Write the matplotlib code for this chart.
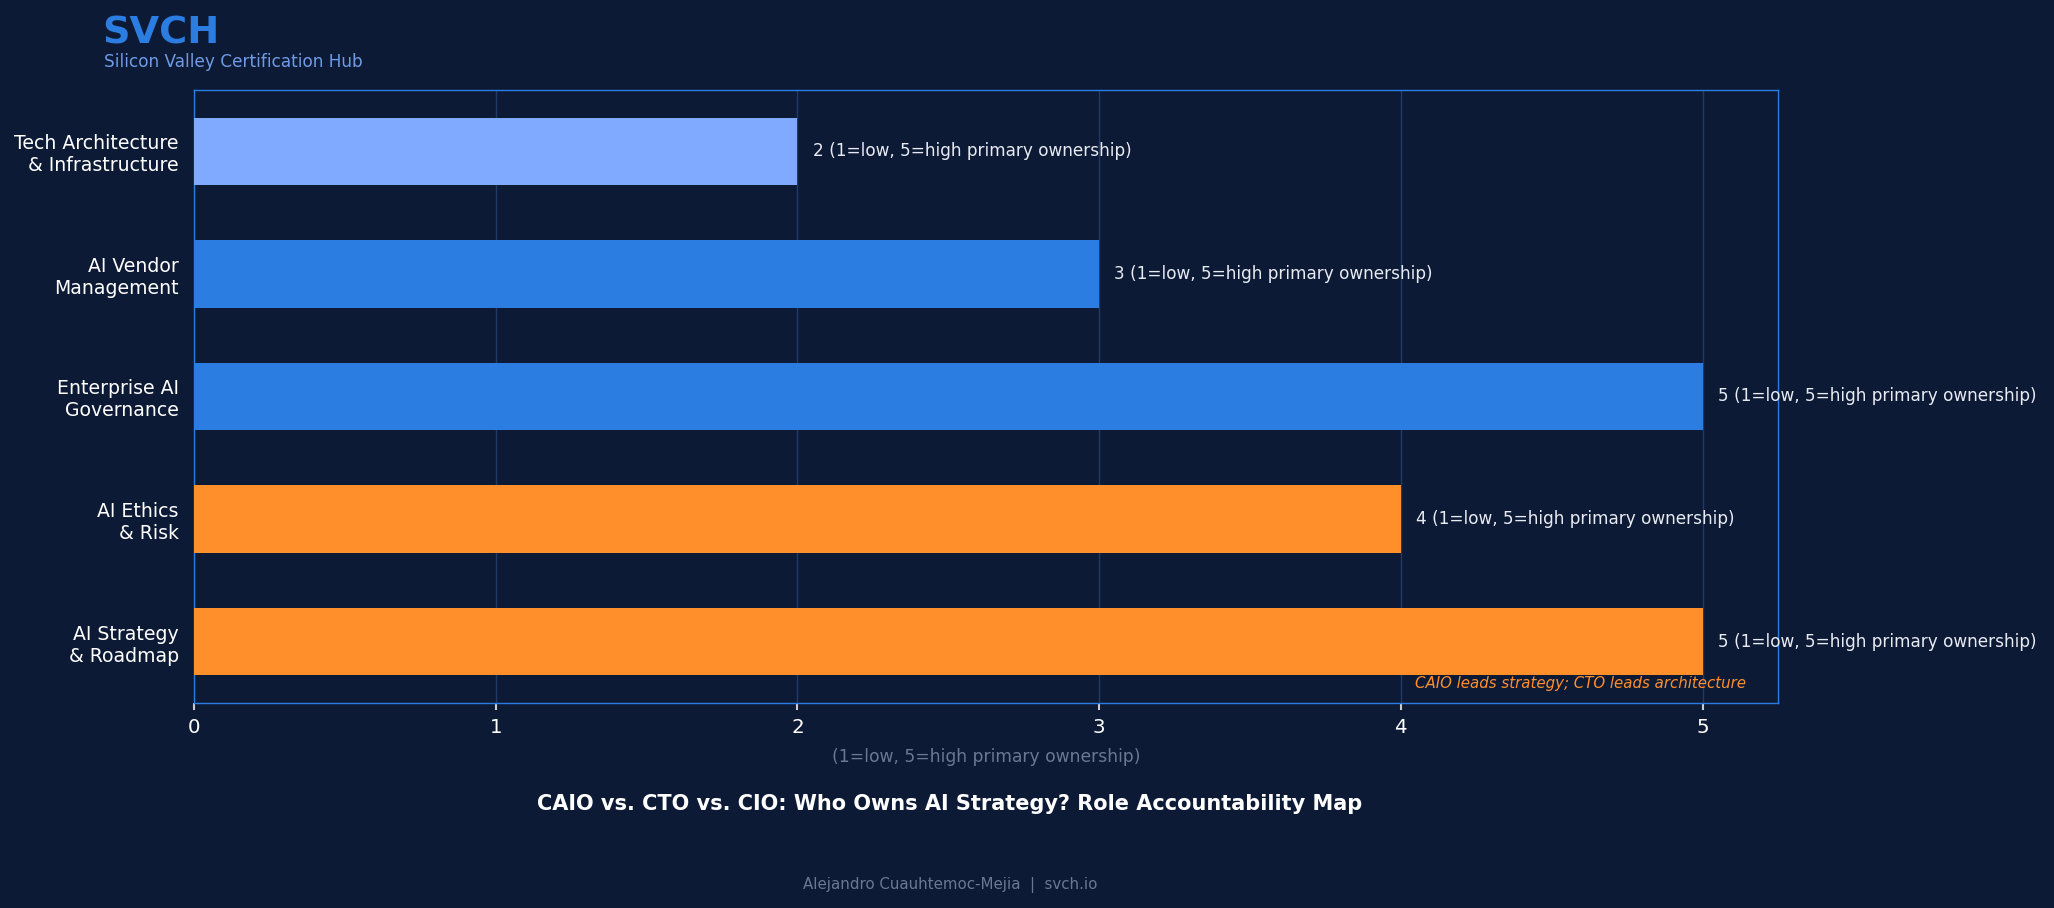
import matplotlib
matplotlib.use("Agg")
import matplotlib.pyplot as plt

# data (bottom to top)
categories = ["AI Strategy\n& Roadmap", "AI Ethics\n& Risk", "Enterprise AI\nGovernance",
              "AI Vendor\nManagement", "Tech Architecture\n& Infrastructure"]
scores = [5, 4, 5, 3, 2]
bar_colors = ["#ff8f2b", "#ff8f2b", "#2b7de1", "#2b7de1", "#7faaff"]
value_suffix = "(1=low, 5=high primary ownership)"
xticks = [0, 1, 2, 3, 4, 5]

BG = "#0d1a35"
BLUE = "#2b7de1"

fig = plt.figure(figsize=(20.54, 9.08), dpi=100, facecolor=BG)
ax = fig.add_axes([0.0945, 0.2258, 0.7711, 0.6751])
ax.set_facecolor(BG)

y = list(range(len(categories)))
ax.barh(y, scores, height=0.55, color=bar_colors, zorder=3)

for yi, s in zip(y, scores):
    ax.text(s + 0.05, yi, f"{s} {value_suffix}", va="center", ha="left",
            color="#e8ebf2", fontsize=12.15, zorder=4)

ax.set_xlim(0, 5.25)
ax.set_ylim(-0.5, 4.5)
ax.set_yticks(y)
ax.set_yticklabels(categories, fontsize=13.6, color="white")
ax.set_xticks(xticks)
ax.set_xticklabels([str(t) for t in xticks], fontsize=14.3, color="white")
ax.tick_params(axis="y", length=0, pad=11)
ax.tick_params(axis="x", length=5, width=1.5, color="#cccccc", pad=6)

ax.xaxis.grid(True, color="#1e3a66", linewidth=1, zorder=0)
ax.yaxis.grid(False)
for sp in ax.spines.values():
    sp.set_color(BLUE)
    sp.set_linewidth(1)

ax.set_xlabel(value_suffix, color="#6b7893", fontsize=12.3, labelpad=8)

ax.text(0.98, 0.02, "CAIO leads strategy; CTO leads architecture", transform=ax.transAxes,
        ha="right", va="bottom", color="#ff8f2b", fontsize=10.8, style="italic")

fig.text(0.050, 0.952, "SVCH", color=BLUE, fontsize=27.5, fontweight="bold", ha="left", va="baseline")
fig.text(0.0505, 0.926, "Silicon Valley Certification Hub", color="#6f9be6", fontsize=12.2,
         ha="left", va="baseline")

fig.text(0.4625, 0.114, "CAIO vs. CTO vs. CIO: Who Owns AI Strategy? Role Accountability Map",
         color="white", fontsize=15, fontweight="bold", ha="center", va="center")
fig.text(0.4625, 0.025, "Alejandro Cuauhtemoc-Mejia  |  svch.io", color="#6b7893",
         fontsize=10.8, ha="center", va="center")

fig.savefig("out.png", dpi=100, facecolor=BG)
